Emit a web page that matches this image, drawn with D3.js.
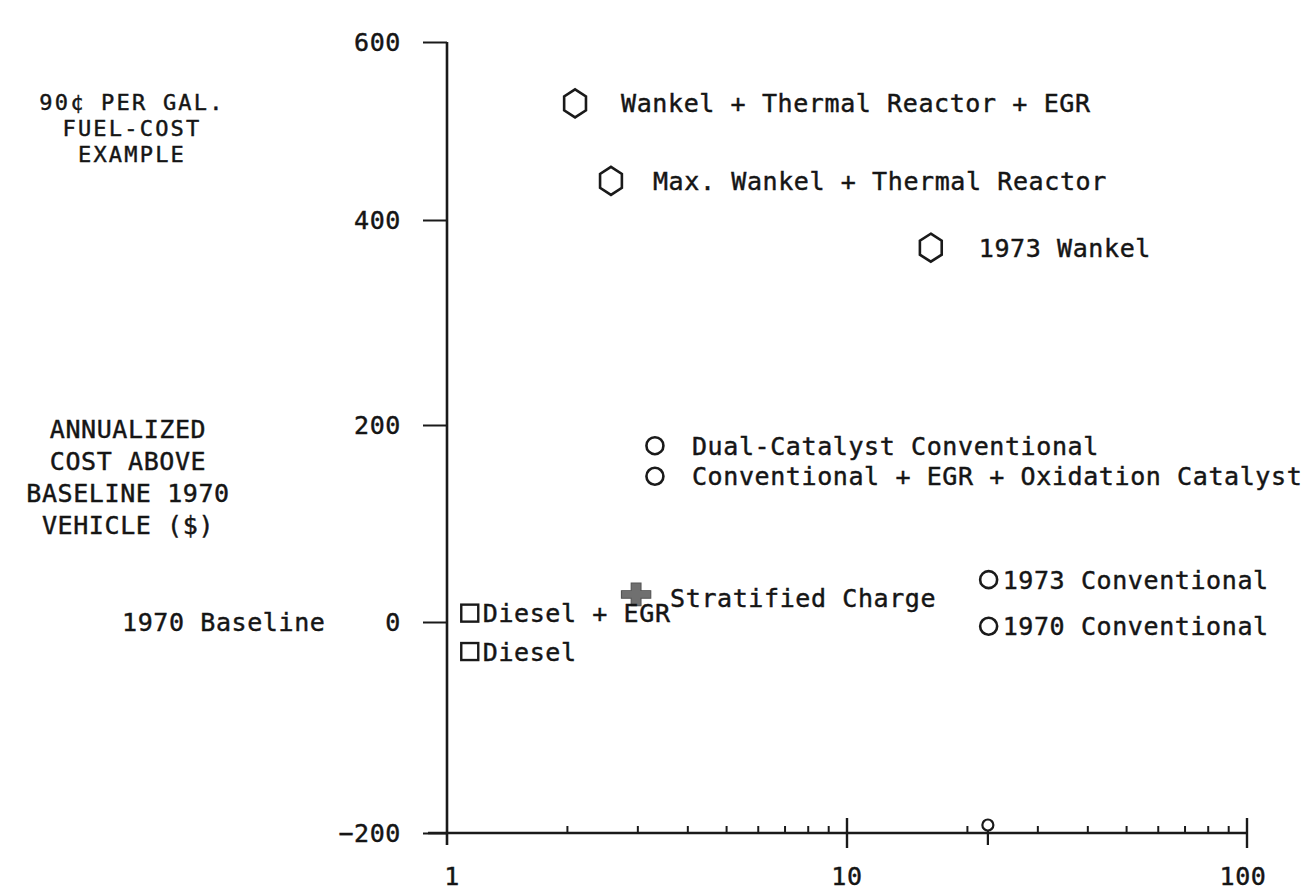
<!DOCTYPE html>
<html><head><meta charset="utf-8">
<script src="https://cdn.jsdelivr.net/npm/d3@7"></script>
<style>
html,body{margin:0;padding:0;background:#fff;}
svg text{font-family:"DejaVu Sans Mono",monospace;font-size:25px;letter-spacing:0.6px;fill:#151515;stroke:#151515;stroke-width:0.45px;}
</style></head>
<body>
<svg id="chart" width="1316" height="893"></svg>
<script>
// ---- data ----
const labels = ["Wankel + Thermal Reactor + EGR","Max. Wankel + Thermal Reactor","1973 Wankel",
  "Dual-Catalyst Conventional","Conventional + EGR + Oxidation Catalyst","1973 Conventional",
  "1970 Conventional","Stratified Charge","Diesel + EGR","Diesel"];
const xValues = [2.09, 2.57, 16.2, 3.31, 3.31, 22.6, 22.6, 2.97, 1.14, 1.14];
const yValues = [531, 444, 373, 179, 148, 43, -4, 28, 9, -28];
const shapes = ["hex","hex","hex","circle","circle","circle","circle","plus","square","square"];
const yTicks = [-200, 0, 200, 400, 600];
const xMajor = [1, 10, 100];
const xMinor = [2,3,4,5,6,7,8,9,20,30,40,50,60,70,80,90];
const xMarked = [22.5];
const leftNote1 = ["90¢ PER GAL.","FUEL-COST","EXAMPLE"];
const leftNote2 = ["ANNUALIZED","COST ABOVE","BASELINE 1970","VEHICLE ($)"];
const baselineNote = "1970 Baseline";

// ---- layout ----
const svg = d3.select("#chart");
const x = d3.scaleLog().domain([1,100]).range([447,1247]);
const y = d3.scaleLinear().domain([-200,0,200,400,600]).range([833,622,425,220,42]);
const ink = "#1a1a1a";
const labelDx = [46,42,48,37,37,14,14,34,13,13];

// y axis
const yAxis = d3.axisLeft(y).tickValues(yTicks).tickSize(24).tickPadding(22).tickFormat(d3.format("d"));
const gy = svg.append("g").attr("transform","translate(447,0)").call(yAxis);
gy.select(".domain").remove();
gy.selectAll(".tick line").attr("stroke",ink).attr("stroke-width",2);
gy.selectAll(".tick text").attr("font-family",null).attr("font-size",null).attr("fill",null);
svg.append("line").attr("x1",447).attr("x2",447).attr("y1",y(600)).attr("y2",845)
  .attr("stroke",ink).attr("stroke-width",2.6);

// x axis
svg.append("line").attr("x1",428).attr("x2",x(100)).attr("y1",y(-200)).attr("y2",y(-200))
  .attr("stroke",ink).attr("stroke-width",2.4);
svg.append("g").selectAll("line").data(xMajor.slice(1)).join("line")
  .attr("x1",d=>x(d)).attr("x2",d=>x(d)).attr("y1",y(-200)-15).attr("y2",y(-200)+15)
  .attr("stroke",ink).attr("stroke-width",2.4);
svg.append("g").selectAll("line").data(xMinor).join("line")
  .attr("x1",d=>x(d)).attr("x2",d=>x(d)).attr("y1",y(-200)-7).attr("y2",y(-200))
  .attr("stroke",ink).attr("stroke-width",2);
svg.append("g").selectAll("line").data(xMarked).join("line")
  .attr("x1",d=>x(d)).attr("x2",d=>x(d)).attr("y1",y(-200)-2).attr("y2",y(-200)+12)
  .attr("stroke",ink).attr("stroke-width",2.2);
svg.append("g").selectAll("circle").data(xMarked).join("circle")
  .attr("cx",d=>x(d)).attr("cy",y(-200)-8).attr("r",5.5)
  .attr("fill","#fff").attr("stroke",ink).attr("stroke-width",2.2);
svg.append("g").selectAll("text").data(xMajor).join("text")
  .attr("x",d=>x(d)+ (d===1?5:(d===100?-4:0))).attr("y",y(-200)+52).attr("text-anchor","middle")
  .text(d=>d);

// left notes
svg.append("g").selectAll("text").data(leftNote1).join("text")
  .attr("x",132).attr("y",(d,i)=>110+i*26).attr("text-anchor","middle")
  .style("font-size","22px").style("letter-spacing","2.2px").text(d=>d);
svg.append("g").selectAll("text").data(leftNote2).join("text")
  .attr("x",128).attr("y",(d,i)=>438+i*32).attr("text-anchor","middle").text(d=>d);
svg.append("text").attr("x",122).attr("y",y(0)+9).text(baselineNote);

// markers
function hexPath(r){
  const pts=d3.range(6).map(i=>{const a=Math.PI/3*i - Math.PI/2;return [r*Math.cos(a)*0.9,r*Math.sin(a)];});
  return "M"+pts.map(p=>p.join(",")).join("L")+"Z";
}
const pts = labels.map((l,i)=>({label:l,x:xValues[i],y:yValues[i],shape:shapes[i],dx:labelDx[i]}));
const g = svg.append("g");
pts.forEach(p=>{
  const cx=x(p.x), cy=y(p.y);
  if(p.shape==="hex"){
    g.append("path").attr("d",hexPath(14)).attr("transform",`translate(${cx},${cy})`)
      .attr("fill","none").attr("stroke",ink).attr("stroke-width",2.6);
  } else if(p.shape==="circle"){
    g.append("circle").attr("cx",cx).attr("cy",cy).attr("r",8.5)
      .attr("fill","none").attr("stroke",ink).attr("stroke-width",2.6);
  } else if(p.shape==="square"){
    g.append("rect").attr("x",cx-8.5).attr("y",cy-8.5).attr("width",17).attr("height",17)
      .attr("fill","none").attr("stroke",ink).attr("stroke-width",2.4);
  } else {
    g.append("path").attr("d",d3.symbol(d3.symbolCross,360)()).attr("transform",`translate(${cx},${cy}) scale(1.15,0.9)`)
      .attr("fill","#707070").attr("stroke","#555").attr("stroke-width",1);
  }
  g.append("text").attr("x",cx+p.dx).attr("y",cy+ (p.shape==="plus"?13:9)).text(p.label);
});
</script>
</body></html>
